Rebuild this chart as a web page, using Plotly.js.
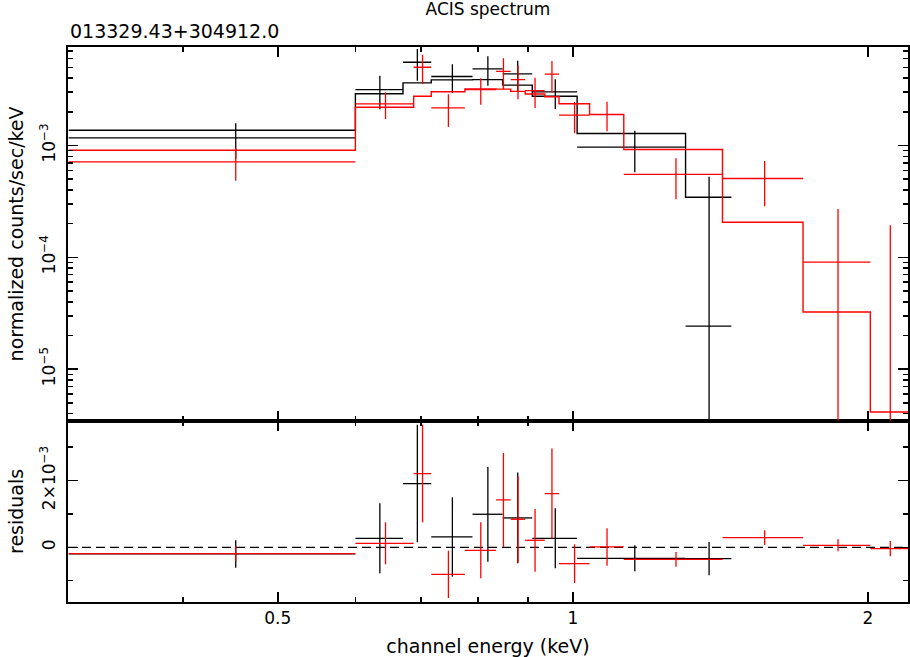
<!DOCTYPE html>
<html>
<head>
<meta charset="utf-8">
<script src="https://cdn.plot.ly/plotly-3.0.1.min.js"></script>
<style>
  html, body { margin: 0; padding: 0; background: #fff; }
  #chart { width: 910px; height: 657px; }
</style>
</head>
<body>
<div id="chart"></div>
<script>
// ---- data (keV, normalized counts/sec/keV) ----

// black spectrum: bin edges, data, 1-sigma errors, folded model, residuals
const blackEdges = [0.306, 0.600, 0.671, 0.717, 0.790, 0.848, 0.909, 1.010, 1.303, 1.451];
const blackData  = [1.172e-3, 3.16e-3, 5.55e-3, 4.14e-3, 4.85e-3, 4.37e-3, 3.02e-3, 0.966e-3, 2.43e-5];
const blackErr   = [0.41e-3, 1.05e-3, 1.76e-3, 1.19e-3, 1.42e-3, 1.36e-3, 0.90e-3, 0.39e-3, 0.50e-3];
const blackModel = [1.369e-3, 2.90e-3, 3.63e-3, 3.86e-3, 3.88e-3, 3.47e-3, 2.76e-3, 1.28e-3, 3.45e-4];
const blackResid = [-0.20e-3, 0.27e-3, 1.91e-3, 0.31e-3, 0.99e-3, 0.88e-3, 0.27e-3, -0.33e-3, -0.34e-3];

// red spectrum
const redEdges = [0.306, 0.600, 0.688, 0.717, 0.776, 0.835, 0.864, 0.894, 0.936, 0.968,
                  1.040, 1.127, 1.421, 1.717, 2.011, 2.204];
const redData  = [0.715e-3, 2.36e-3, 5.01e-3, 2.17e-3, 3.16e-3, 4.61e-3, 3.89e-3, 3.10e-3,
                  4.34e-3, 1.87e-3, 1.90e-3, 0.551e-3, 0.507e-3, 9.06e-5, -3.6e-5];
const redErr   = [0.23e-3, 0.63e-3, 1.46e-3, 0.71e-3, 0.84e-3, 1.41e-3, 1.30e-3, 0.94e-3,
                  1.35e-3, 0.58e-3, 0.56e-3, 0.22e-3, 0.22e-3, 0.18e-3, 0.23e-3];
const redModel = [0.908e-3, 2.20e-3, 2.76e-3, 3.02e-3, 3.21e-3, 3.19e-3, 3.05e-3, 2.89e-3,
                  2.73e-3, 2.36e-3, 1.89e-3, 0.921e-3, 2.06e-4, 3.24e-5, 4.14e-6];
const redResid = [-0.19e-3, 0.12e-3, 2.21e-3, -0.81e-3, -0.09e-3, 1.42e-3, 0.84e-3, 0.21e-3,
                  1.61e-3, -0.49e-3, 0.01e-3, -0.36e-3, 0.29e-3, 0.06e-3, -0.04e-3];

// axis ticks
const xTicks = [0.5, 1, 2];
const xTickText = ['0.5', '1', '2'];
const xMinor = [0.4, 0.6, 0.7, 0.8, 0.9];
const yTicks = [1e-5, 1e-4, 1e-3];
const yTickText = ['10<sup>\u22125</sup>', '10<sup>\u22124</sup>', '10<sup>\u22123</sup>'];
const residTicks = [0, 2e-3];
const residTickText = ['0', '2\u00d710<sup>\u22123</sup>'];
const residMinor = [-1e-3, 1e-3, 3e-3];

// minor ticks 2..9 for each decade on the log count axis
const yMinor = [];
[-6, -5, -4, -3].forEach(d => {
  for (let k = 2; k <= 9; k++) yMinor.push(k * Math.pow(10, d));
});

// Build crosses (bin width + 1-sigma bar) as one line trace with gaps
function crosses(edges, vals, errs, logAxis) {
  const xs = [], ys = [];
  for (let i = 0; i < vals.length; i++) {
    const lo = edges[i], hi = edges[i + 1], mid = (lo + hi) / 2;
    const v = vals[i], e = errs[i];
    if (!logAxis || v > 0) {
      xs.push(lo, hi, null);
      ys.push(v, v, null);
    }
    let bottom = v - e;
    if (logAxis && bottom <= 0) bottom = 1e-12; // falls off the bottom of the log axis
    xs.push(mid, mid, null);
    ys.push(bottom, v + e, null);
  }
  return { xs, ys };
}

// Step line for the folded model
function steps(edges, model) {
  return { xs: edges.slice(), ys: model.concat([model[model.length - 1]]) };
}

const traces = [];
function addGroup(edges, data, err, model, resid, color) {
  const c = crosses(edges, data, err, true);
  traces.push({ x: c.xs, y: c.ys, xaxis: 'x2', yaxis: 'y', mode: 'lines',
    line: { color: color, width: 1.3 }, hoverinfo: 'skip' });
  const m = steps(edges, model);
  traces.push({ x: m.xs, y: m.ys, xaxis: 'x2', yaxis: 'y', mode: 'lines',
    line: { color: color, width: 1.4, shape: 'hv' }, hoverinfo: 'skip' });
  const r = crosses(edges, resid, err, false);
  traces.push({ x: r.xs, y: r.ys, xaxis: 'x', yaxis: 'y2', mode: 'lines',
    line: { color: color, width: 1.3 }, hoverinfo: 'skip' });
}
addGroup(blackEdges, blackData, blackErr, blackModel, blackResid, '#000000');
addGroup(redEdges, redData, redErr, redModel, redResid, '#ff0000');

const xRange = [Math.log10(0.3055), Math.log10(2.197)];
const split = 0.3264;

const axisCommon = {
  showline: true, linewidth: 2, linecolor: '#000', mirror: 'ticks',
  ticks: 'inside', ticklen: 10, tickwidth: 1.5, tickcolor: '#000',
  showgrid: false, zeroline: false, fixedrange: true
};

const layout = {
  width: 910, height: 657,
  margin: { l: 68, r: 2, t: 47, b: 55 },
  showlegend: false,
  paper_bgcolor: '#ffffff', plot_bgcolor: '#ffffff',
  font: { family: 'DejaVu Sans, sans-serif', color: '#000', size: 16 },
  title: { text: 'ACIS spectrum', x: 0.5, xref: 'paper', xanchor: 'center',
           y: 1 - 3 / 657, yref: 'container', yanchor: 'top', font: { size: 17 } },
  xaxis: Object.assign({}, axisCommon, {
    type: 'log', range: xRange, anchor: 'y2', domain: [0, 1],
    tickmode: 'array', tickvals: xTicks, ticktext: xTickText,
    tickfont: { size: 17 },
    minor: { tickmode: 'array', tickvals: xMinor, ticks: 'inside', ticklen: 5, tickwidth: 1.5, tickcolor: '#000' },
    title: { text: 'channel energy (keV)', font: { size: 19 }, standoff: 12 }
  }),
  xaxis2: Object.assign({}, axisCommon, {
    type: 'log', range: xRange, anchor: 'y', matches: 'x', showticklabels: false,
    tickmode: 'array', tickvals: xTicks,
    minor: { tickmode: 'array', tickvals: xMinor, ticks: 'inside', ticklen: 5, tickwidth: 1.5, tickcolor: '#000' }
  }),
  yaxis: Object.assign({}, axisCommon, {
    type: 'log', domain: [split, 1], anchor: 'x2',
    range: [Math.log10(3.45e-6), Math.log10(7.6e-3)],
    tickmode: 'array', tickvals: yTicks, ticktext: yTickText, tickangle: -90,
    tickfont: { size: 17 }, ticklabelstandoff: 4,
    minor: { tickmode: 'array', tickvals: yMinor, ticks: 'inside', ticklen: 5, tickwidth: 1.5, tickcolor: '#000' },
    title: { text: 'normalized counts/sec/keV', font: { size: 19 }, standoff: 8 }
  }),
  yaxis2: Object.assign({}, axisCommon, {
    domain: [0, split], anchor: 'x',
    range: [-1.64e-3, 3.79e-3],
    tickmode: 'array', tickvals: residTicks, ticktext: residTickText, tickangle: -90,
    tickfont: { size: 17 }, ticklabelstandoff: 4,
    minor: { tickmode: 'array', tickvals: residMinor, ticks: 'inside', ticklen: 5, tickwidth: 1.5, tickcolor: '#000' },
    title: { text: 'residuals', font: { size: 19 }, standoff: 8 }
  }),
  shapes: [{
    type: 'line', xref: 'x domain', x0: 0, x1: 1, yref: 'y2', y0: 0, y1: 0,
    line: { color: '#000', width: 1.3, dash: '9px,5px' }, layer: 'below'
  }],
  annotations: [{
    text: '013329.43+304912.0', xref: 'paper', x: 0, xanchor: 'left',
    yref: 'paper', y: 1 + 16 / 555, yanchor: 'middle', showarrow: false,
    font: { size: 19 }
  }]
};

Plotly.newPlot('chart', traces, layout, { staticPlot: true, displayModeBar: false });
</script>
</body>
</html>
